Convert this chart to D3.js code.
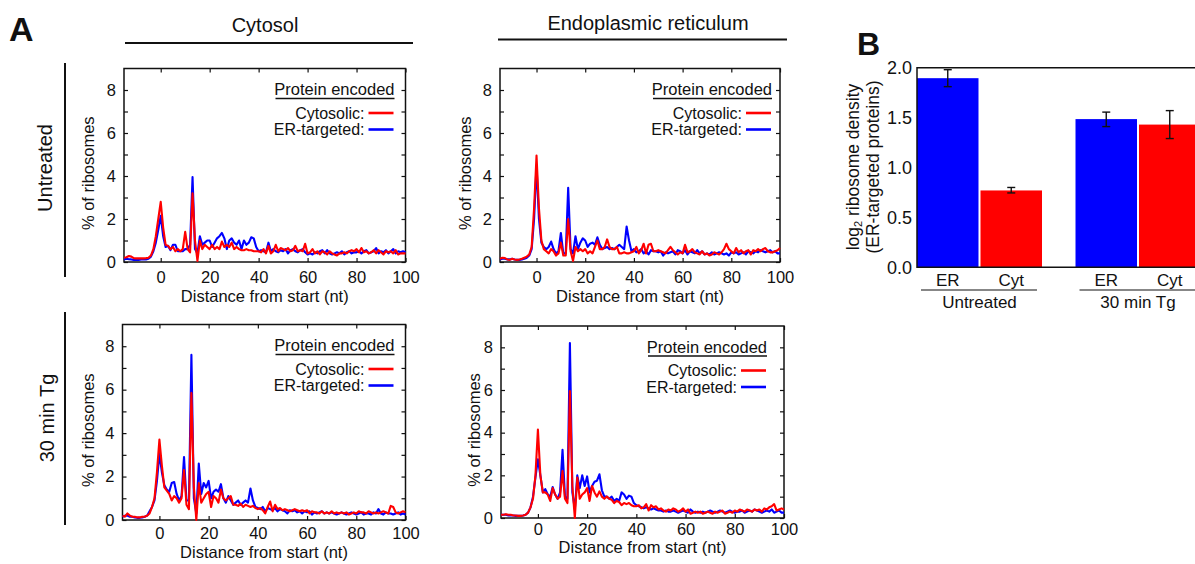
<!DOCTYPE html>
<html>
<head>
<meta charset="utf-8">
<script src="https://cdn.jsdelivr.net/npm/d3@7"></script>
<style>
  body { margin: 0; background: #fff; }
  svg { display: block; font-family: "Liberation Sans", Arial, sans-serif; }
</style>
</head>
<body>
<svg id="fig" width="1195" height="564"></svg>
<script>
// nt position relative to start codon
const positions = d3.range(-15, 101);
const xTicks = [0, 20, 40, 60, 80, 100];
const yTicks = [0, 1, 2, 3, 4, 5, 6, 7, 8];
const yTickLabels = ["0", "", "2", "", "4", "", "6", "", "8"];

// % of ribosomes, cytosol fraction, untreated
const cytUntreatedCyt = [
  0.2, 0.22, 0.28, 0.25, 0.18, 0.17, 0.17, 0.17, 0.17, 0.18, 0.2,
  0.3, 0.6, 1.2, 2.0,
  2.8, 1.6, 0.8, 0.75, 0.6, 0.7, 0.5, 0.6, 0.5, 0.6, 1.4, 0.6, 0.45, 3.2, 1.0,
  0.05, 1.0, 0.6, 0.8, 0.7, 0.6, 0.8, 0.6, 0.7, 0.6, 0.95, 0.7, 0.8, 0.7, 0.9, 0.6, 0.7, 0.6, 0.55, 0.55, 0.6, 0.55, 0.55, 0.5, 0.5,
  0.5, 0.45, 0.6, 0.4, 0.75, 0.4, 0.5, 0.8, 0.5, 0.65,
  0.6, 0.55, 0.65, 0.5, 0.55, 0.75, 0.5, 0.55, 0.5, 0.85,
  0.4, 0.45, 0.6, 0.4, 0.5, 0.35, 0.5, 0.45, 0.35, 0.5,
  0.4, 0.35, 0.3, 0.4, 0.4, 0.45, 0.4, 0.5, 0.55, 0.5,
  0.6, 0.45, 0.65, 0.45, 0.5, 0.4, 0.45, 0.55, 0.4, 0.55,
  0.45, 0.35, 0.5, 0.45, 0.5, 0.4, 0.55, 0.35, 0.4, 0.4,
  0.4
];
const cytUntreatedEr = [
  0.12, 0.15, 0.13, 0.12, 0.1, 0.1, 0.1, 0.12, 0.12, 0.12, 0.15,
  0.25, 0.5, 0.9, 1.5,
  2.15, 1.2, 0.7, 0.75, 0.55, 0.8, 0.8, 0.5, 0.5, 0.5, 0.6, 0.6, 0.8, 3.95, 0.6,
  0.4, 1.2, 0.8, 0.9, 1.0, 1.0, 0.7, 0.9, 1.1, 1.2, 1.35, 1.1, 0.6, 1.0, 1.1, 0.9, 0.8, 1.0, 0.6, 1.0, 0.8, 0.9, 1.15, 1.1, 0.7,
  0.5, 0.55, 0.5, 0.45, 0.9, 0.5, 0.6, 0.5, 0.45, 0.55,
  0.5, 0.6, 0.4, 0.55, 0.6, 0.5, 0.45, 0.55, 0.6, 0.45,
  0.35, 0.4, 0.35, 0.45, 0.4, 0.5, 0.55, 0.4, 0.55, 0.4,
  0.35, 0.4, 0.45, 0.4, 0.5, 0.35, 0.45, 0.5, 0.4, 0.45,
  0.45, 0.5, 0.4, 0.5, 0.55, 0.4, 0.45, 0.5, 0.65, 0.4,
  0.5, 0.45, 0.55, 0.4, 0.5, 0.6, 0.4, 0.5, 0.45, 0.5,
  0.45
];

// ER fraction, untreated
const erUntreatedCyt = [
  0.15, 0.2, 0.18, 0.12, 0.1, 0.15, 0.12, 0.1, 0.12, 0.15, 0.2,
  0.25, 0.35, 0.7, 2.5,
  4.95, 2.5, 1.0, 0.6, 0.5, 0.4, 0.6, 0.5, 0.3, 0.4, 0.9, 0.3, 0.3, 2.0, 0.5,
  0.05, 0.7, 0.5, 0.6, 0.5, 0.6, 0.4, 0.5, 0.4, 0.7, 1.0, 0.6, 0.6, 0.7, 1.05, 0.7, 0.6, 0.6, 0.7, 0.4, 0.4, 0.45, 0.4, 0.4, 0.45,
  0.5, 0.7, 0.4, 0.55, 0.85, 0.4, 0.8, 0.85, 0.5, 0.5,
  0.55, 0.5, 0.45, 0.4, 0.55, 0.7, 0.55, 0.45, 0.35, 0.45,
  0.4, 0.8, 0.45, 0.5, 0.6, 0.45, 0.4, 0.35, 0.5, 0.35,
  0.4, 0.3, 0.35, 0.45, 0.4, 0.35, 0.45, 0.6, 0.85, 0.6,
  0.5, 0.4, 0.65, 0.45, 0.55, 0.4, 0.5, 0.55, 0.35, 0.55,
  0.5, 0.6, 0.5, 0.6, 0.65, 0.5, 0.45, 0.45, 0.5, 0.55,
  0.65
];
const erUntreatedEr = [
  0.12, 0.15, 0.15, 0.12, 0.12, 0.15, 0.12, 0.1, 0.1, 0.12, 0.15,
  0.2, 0.3, 0.6, 2.0,
  4.5, 2.0, 0.9, 0.7, 0.6, 0.7, 0.95, 0.6, 0.4, 0.5, 1.35, 0.4, 0.4, 3.45, 0.6,
  0.4, 1.2, 0.6, 0.9, 1.1, 1.0, 0.7, 0.85, 0.9, 0.8, 1.15, 0.8, 0.6, 0.65, 0.7, 0.6, 0.65, 0.6, 0.7, 0.8, 0.7, 0.6, 1.65, 1.0, 0.5,
  0.6, 0.45, 0.5, 0.6, 0.4, 0.5, 0.35, 0.55, 0.5, 0.5,
  0.45, 0.5, 0.3, 0.45, 0.4, 0.45, 0.5, 0.35, 0.55, 0.5,
  0.4, 0.55, 0.35, 0.5, 0.45, 0.4, 0.55, 0.4, 0.5, 0.35,
  0.4, 0.35, 0.45, 0.35, 0.4, 0.45, 0.4, 0.35, 0.4, 0.3,
  0.45, 0.4, 0.45, 0.35, 0.4, 0.45, 0.35, 0.5, 0.45, 0.4,
  0.5, 0.45, 0.55, 0.5, 0.45, 0.5, 0.55, 0.45, 0.5, 0.4,
  0.4
];

// cytosol fraction, 30 min Tg
const cytTgCyt = [
  0.2, 0.15, 0.3, 0.2, 0.15, 0.15, 0.12, 0.12, 0.15, 0.15, 0.2,
  0.3, 0.6, 1.0, 2.2,
  3.7, 2.5, 1.5, 1.35, 1.2, 0.9, 1.1, 1.0, 0.8, 1.0, 2.3, 0.7, 0.5, 5.85, 1.5,
  0.0, 1.7, 0.8, 1.0, 1.2, 1.3, 0.6, 1.1, 1.0, 0.8, 1.4, 1.0, 0.9, 1.0, 1.1, 0.7, 0.7, 0.65, 0.75, 0.6, 0.7, 0.65, 0.6, 0.65, 0.55,
  0.5, 0.55, 0.45, 0.3, 0.6, 0.85, 0.4, 0.7, 0.5, 0.55,
  0.45, 0.5, 0.45, 0.4, 0.45, 0.5, 0.45, 0.4, 0.45, 0.4,
  0.45, 0.3, 0.4, 0.35, 0.35, 0.3, 0.4, 0.3, 0.35, 0.3,
  0.4, 0.3, 0.35, 0.3, 0.35, 0.3, 0.35, 0.25, 0.3, 0.35,
  0.3, 0.4, 0.35, 0.35, 0.3, 0.4, 0.35, 0.3, 0.35, 0.3,
  0.35, 0.4, 0.35, 0.3, 0.65, 0.6, 0.35, 0.3, 0.35, 0.4,
  0.35
];
const cytTgEr = [
  0.15, 0.2, 0.2, 0.15, 0.15, 0.12, 0.1, 0.1, 0.12, 0.15, 0.2,
  0.4, 0.6, 0.9, 1.8,
  3.05, 2.2, 1.6, 1.4, 1.3, 1.7, 1.75, 1.2, 0.9, 1.1, 2.9, 0.9, 0.9, 7.6, 1.0,
  0.3, 2.6, 1.2, 1.7, 1.5, 1.8, 1.0, 1.3, 1.4, 1.3, 1.65, 1.0, 0.8, 1.1, 0.9, 0.7, 0.8, 0.9, 0.7, 0.8, 0.9, 0.8, 1.45, 0.9, 0.6,
  0.55, 0.5, 0.6, 0.4, 0.55, 0.5, 0.45, 0.55, 0.4, 0.5,
  0.45, 0.4, 0.3, 0.45, 0.4, 0.45, 0.35, 0.4, 0.3, 0.4,
  0.35, 0.4, 0.25, 0.35, 0.3, 0.35, 0.4, 0.3, 0.35, 0.3,
  0.35, 0.3, 0.25, 0.3, 0.35, 0.3, 0.25, 0.3, 0.35, 0.3,
  0.25, 0.3, 0.35, 0.25, 0.3, 0.3, 0.25, 0.35, 0.3, 0.5,
  0.3, 0.25, 0.35, 0.3, 0.3, 0.25, 0.3, 0.35, 0.25, 0.3,
  0.25
];

// ER fraction, 30 min Tg
const erTgCyt = [
  0.15, 0.15, 0.18, 0.15, 0.15, 0.12, 0.12, 0.1, 0.1, 0.12, 0.15,
  0.25, 0.5, 0.9, 2.0,
  4.15, 2.0, 1.2, 1.2, 1.1, 0.8, 1.4, 1.1, 0.9, 1.0, 2.2, 0.9, 0.7, 5.95, 1.5,
  0.0, 1.9, 0.9, 1.1, 1.2, 1.4, 0.8, 1.5, 1.2, 1.0, 1.25, 1.0, 0.9, 1.0, 0.9, 0.85, 0.7, 0.8, 0.75, 0.6, 0.7, 0.65, 0.7, 0.6, 0.55,
  0.55, 0.6, 0.45, 0.5, 0.65, 0.35, 0.6, 0.5, 0.55, 0.4,
  0.45, 0.35, 0.3, 0.4, 0.35, 0.45, 0.4, 0.3, 0.35, 0.45,
  0.3, 0.4, 0.2, 0.25, 0.3, 0.25, 0.3, 0.2, 0.25, 0.3,
  0.25, 0.2, 0.3, 0.25, 0.3, 0.35, 0.2, 0.25, 0.3, 0.25,
  0.35, 0.3, 0.4, 0.35, 0.3, 0.4, 0.35, 0.3, 0.4, 0.35,
  0.4, 0.3, 0.45, 0.4, 0.5, 0.55, 0.65, 0.35, 0.4, 0.45,
  0.4
];
const erTgEr = [
  0.15, 0.15, 0.15, 0.12, 0.12, 0.12, 0.1, 0.1, 0.1, 0.12, 0.15,
  0.25, 0.5, 1.0, 1.9,
  2.75, 2.0, 1.2, 1.35, 1.1, 1.0, 1.45, 1.1, 0.9, 1.2, 3.2, 1.0, 0.9, 8.2, 1.2,
  0.4, 2.0, 1.4, 2.0, 1.5, 1.95, 1.2, 1.5, 1.7, 1.75, 2.05, 1.3, 1.0, 1.0, 0.9, 1.0, 0.8, 0.9, 0.8, 1.2, 1.1, 0.9, 1.05, 1.0, 0.7,
  0.6, 0.55, 0.5, 0.45, 0.5, 0.45, 0.4, 0.45, 0.4, 0.35,
  0.35, 0.3, 0.35, 0.3, 0.3, 0.35, 0.3, 0.25, 0.3, 0.35,
  0.3, 0.25, 0.4, 0.3, 0.25, 0.3, 0.25, 0.3, 0.25, 0.3,
  0.35, 0.3, 0.25, 0.3, 0.35, 0.3, 0.25, 0.3, 0.35, 0.3,
  0.25, 0.3, 0.3, 0.35, 0.25, 0.3, 0.35, 0.3, 0.4, 0.35,
  0.3, 0.25, 0.3, 0.35, 0.3, 0.4, 0.25, 0.3, 0.35, 0.25,
  0.25
];

// panel B: log2 ribosome density
const barGroups = ["Untreated", "30 min Tg"];
const barKinds = ["ER", "Cyt"];
const barValues = [[1.895, 0.77], [1.485, 1.43]];
const barErrLow = [[1.81, 0.745], [1.41, 1.29]];
const barErrHigh = [[1.98, 0.80], [1.555, 1.57]];
const bTicks = [0, 0.5, 1.0, 1.5, 2.0];

const RED = "#ff0000", BLUE = "#0000ff";
const svg = d3.select("#fig");
svg.append("rect").attr("width", 1195).attr("height", 564).attr("fill", "#fff");

function drawProfile(p) {
    const g = svg.append("g");
    const x = d3.scaleLinear().domain([-15, 100]).range([p.left, p.right]);
    const y = d3.scaleLinear().domain([0, 9]).range([p.bottom, p.top]);

    g.append("g")
        .attr("transform", "translate(0," + p.bottom + ")")
        .call(d3.axisBottom(x).tickValues(xTicks).tickSize(-4).tickPadding(p.tickPad).tickFormat(d3.format("d")));
    g.append("g")
        .attr("transform", "translate(0," + p.top + ")")
        .call(d3.axisTop(x).tickValues(xTicks).tickSize(-4).tickFormat(""));
    g.append("g")
        .attr("transform", "translate(" + p.left + ",0)")
        .call(d3.axisLeft(y).tickValues(yTicks).tickSize(-4).tickPadding(8).tickFormat((d, i) => yTickLabels[i]));
    g.append("g")
        .attr("transform", "translate(" + p.right + ",0)")
        .call(d3.axisRight(y).tickValues(yTicks).tickSize(-4).tickFormat(""));

    g.selectAll(".domain").remove();
    g.selectAll(".tick line").attr("stroke", "#111").attr("stroke-width", 1.2);
    g.selectAll(".tick text").attr("font-size", 16.5).attr("fill", "#111").attr("font-family", null);

    g.append("rect")
        .attr("x", p.left).attr("y", p.top)
        .attr("width", p.right - p.left).attr("height", p.bottom - p.top)
        .attr("fill", "none").attr("stroke", "#111").attr("stroke-width", 1.5);

    const line = d3.line().x((d, i) => x(positions[i])).y(d => y(d));
    [[p.er, BLUE], [p.cyt, RED]].forEach(([vals, col]) => {
        g.append("path").datum(vals)
            .attr("d", line)
            .attr("fill", "none")
            .attr("stroke", col)
            .attr("stroke-width", 2.1)
            .attr("stroke-linejoin", "round");
    });

    // axis titles
    g.append("text")
        .attr("x", (p.left + p.right) / 2).attr("y", p.bottom + p.xlabOff)
        .attr("text-anchor", "middle").attr("font-size", 16.5).attr("fill", "#111")
        .text("Distance from start (nt)");
    g.append("text")
        .attr("transform", "translate(" + (p.left - p.ylabOff) + "," + ((p.top + p.bottom) / 2 + 8) + ") rotate(-90)")
        .attr("dy", "0.35em")
        .attr("text-anchor", "middle").attr("font-size", 16.5).attr("fill", "#111")
        .text("% of ribosomes");

    // legend
    const lx = p.right - p.legInset;
    g.append("text")
        .attr("x", lx).attr("y", p.top + 21).attr("dy", "0.35em")
        .attr("text-anchor", "end").attr("font-size", 16.5).attr("fill", "#111")
        .text("Protein encoded");
    g.append("line")
        .attr("x1", lx - 119).attr("x2", lx)
        .attr("y1", p.top + 30).attr("y2", p.top + 30)
        .attr("stroke", "#111").attr("stroke-width", 1.3);
    [["Cytosolic:", RED, 44.5], ["ER-targeted:", BLUE, 61]].forEach(([lab, col, off]) => {
        g.append("text")
            .attr("x", lx - 30).attr("y", p.top + off).attr("dy", "0.35em")
            .attr("text-anchor", "end").attr("font-size", 16).attr("fill", "#111")
            .text(lab);
        g.append("line")
            .attr("x1", lx - 26).attr("x2", lx - 1)
            .attr("y1", p.top + off).attr("y2", p.top + off)
            .attr("stroke", col).attr("stroke-width", 2.6);
    });
}

drawProfile({ cyt: cytUntreatedCyt, er: cytUntreatedEr, left: 124, right: 405.5, top: 68.5, bottom: 262,
    tickPad: 9, xlabOff: 40, ylabOff: 36, legInset: 11 });
drawProfile({ cyt: erUntreatedCyt, er: erUntreatedEr, left: 500, right: 780, top: 68.5, bottom: 262,
    tickPad: 9, xlabOff: 40, ylabOff: 35, legInset: 8 });
drawProfile({ cyt: cytTgCyt, er: cytTgEr, left: 122.5, right: 405.5, top: 324.5, bottom: 520,
    tickPad: 7, xlabOff: 38, ylabOff: 34, legInset: 11 });
drawProfile({ cyt: erTgCyt, er: erTgEr, left: 501, right: 784, top: 326, bottom: 518,
    tickPad: 5, xlabOff: 35, ylabOff: 27, legInset: 17 });

// column headers
[["Cytosol", 265, 32, 125, 413, 43], ["Endoplasmic reticulum", 648, 30, 498, 787, 39.5]].forEach(([t, cx, by, x1, x2, ly]) => {
    svg.append("text").attr("x", cx).attr("y", by)
        .attr("text-anchor", "middle").attr("font-size", 20).attr("fill", "#111").text(t);
    svg.append("line").attr("x1", x1).attr("x2", x2).attr("y1", ly).attr("y2", ly)
        .attr("stroke", "#111").attr("stroke-width", 2);
});

// row headers
[["Untreated", 45, 168, 63, 277], ["30 min Tg", 47, 418, 312, 525]].forEach(([t, cx, cy, y1, y2]) => {
    svg.append("text")
        .attr("transform", "translate(" + cx + "," + cy + ") rotate(-90)")
        .attr("dy", "0.35em").attr("text-anchor", "middle")
        .attr("font-size", 20).attr("fill", "#111").text(t);
    svg.append("line").attr("x1", 65).attr("x2", 65).attr("y1", y1).attr("y2", y2)
        .attr("stroke", "#111").attr("stroke-width", 2);
});

svg.append("text").attr("x", 9).attr("y", 41).attr("font-size", 34).attr("font-weight", "bold").attr("fill", "#111").text("A");
svg.append("text").attr("x", 857).attr("y", 55).attr("font-size", 32).attr("font-weight", "bold").attr("fill", "#111").text("B");

// ---- panel B ----
const bLeft = 917, bTop = 67.7, bBottom = 267.3;
const yB = d3.scaleLinear().domain([0, 2]).range([bBottom, bTop]);
const xGroup = d3.scaleBand().domain(barGroups).range([bLeft, 1200.5]).paddingInner(0.2114).paddingOuter(0);
const xKind = d3.scaleBand().domain(barKinds).range([0, xGroup.bandwidth()]).paddingInner(0.0315).paddingOuter(0);

const gB = svg.append("g");
barGroups.forEach((grp, gi) => {
    const gx = xGroup(grp);
    barKinds.forEach((k, ki) => {
        const bx = gx + xKind(k);
        const cx = bx + xKind.bandwidth() / 2;
        gB.append("rect")
            .attr("x", bx).attr("y", yB(barValues[gi][ki]))
            .attr("width", xKind.bandwidth())
            .attr("height", yB(0) - yB(barValues[gi][ki]))
            .attr("fill", k === "ER" ? BLUE : RED);
        gB.append("line")
            .attr("x1", cx).attr("x2", cx)
            .attr("y1", yB(barErrLow[gi][ki])).attr("y2", yB(barErrHigh[gi][ki]))
            .attr("stroke", "#111").attr("stroke-width", 1.4);
        [barErrLow[gi][ki], barErrHigh[gi][ki]].forEach(v => {
            gB.append("line")
                .attr("x1", cx - 4).attr("x2", cx + 4)
                .attr("y1", yB(v)).attr("y2", yB(v))
                .attr("stroke", "#111").attr("stroke-width", 1.4);
        });
        gB.append("text")
            .attr("x", cx).attr("y", 286)
            .attr("text-anchor", "middle").attr("font-size", 17).attr("fill", "#111")
            .text(k);
    });
    gB.append("line")
        .attr("x1", gx + 4).attr("x2", gx + xGroup.bandwidth() - 5)
        .attr("y1", 290).attr("y2", 290)
        .attr("stroke", "#111").attr("stroke-width", 1.2);
    gB.append("text")
        .attr("x", gx + xGroup.bandwidth() / 2).attr("y", 307.5)
        .attr("text-anchor", "middle").attr("font-size", 17).attr("fill", "#111")
        .text(grp);
});

const axB = gB.append("g")
    .attr("transform", "translate(" + bLeft + ",0)")
    .call(d3.axisLeft(yB).tickValues(bTicks).tickSize(0).tickPadding(5).tickFormat(d3.format(".1f")));
axB.select(".domain").remove();
axB.selectAll(".tick text").attr("font-size", 18).attr("fill", "#111").attr("font-family", null);

// frame (right side is cut off by the figure edge)
gB.append("path")
    .attr("d", "M1195," + bTop + "H" + bLeft + "V" + bBottom + "H1195")
    .attr("fill", "none").attr("stroke", "#111").attr("stroke-width", 1.5);

const yLab = gB.append("text")
    .attr("transform", "translate(853,167) rotate(-90)")
    .attr("dy", "0.35em").attr("text-anchor", "middle")
    .attr("font-size", 17.5).attr("fill", "#111");
yLab.append("tspan").text("log");
yLab.append("tspan").attr("font-size", 11).attr("dy", 3).text("2");
yLab.append("tspan").attr("dy", -3).text(" ribosome density");
gB.append("text")
    .attr("transform", "translate(873,167) rotate(-90)")
    .attr("dy", "0.35em").attr("text-anchor", "middle")
    .attr("font-size", 17.5).attr("fill", "#111")
    .text("(ER-targeted proteins)");
</script>
</body>
</html>
